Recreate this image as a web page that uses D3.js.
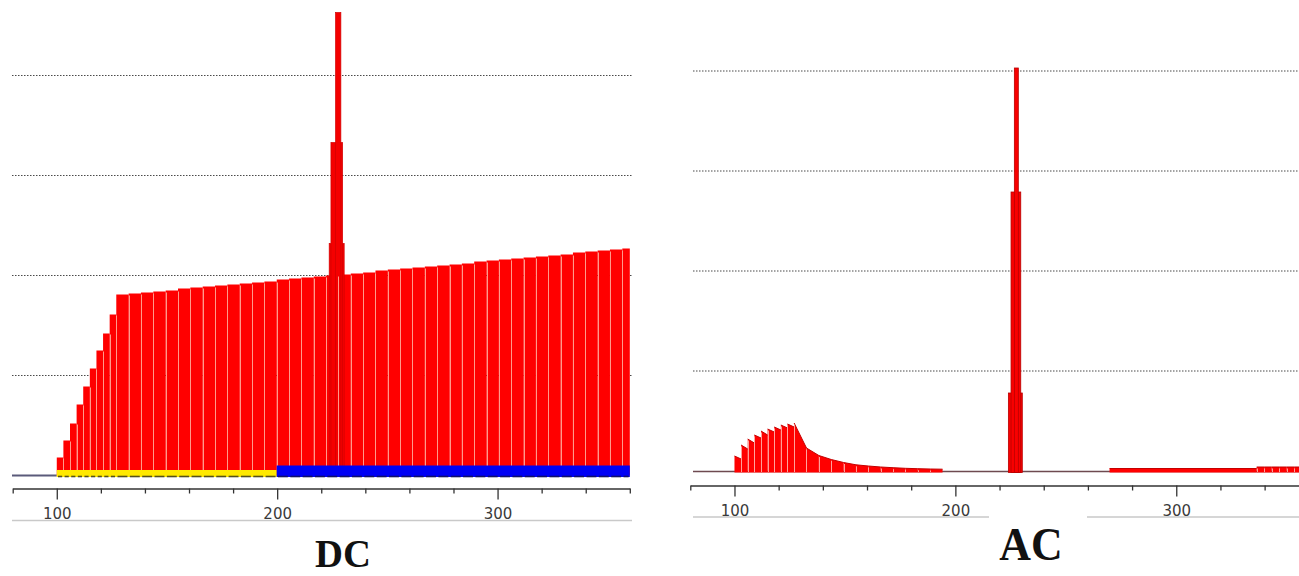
<!DOCTYPE html>
<html><head><meta charset="utf-8">
<script src="https://cdn.jsdelivr.net/npm/d3@7"></script>
<style>html,body{margin:0;padding:0;background:#fff;overflow:hidden}</style>
</head><body>
<svg id="c" width="1299" height="576"></svg>
<script>
// ---------- data ----------
const xDomain = [80, 360];
const majorTicks = [100, 200, 300];
const minorTicks = [80, 120, 140, 160, 180, 220, 240, 260, 280, 320, 340, 360];
const gridLevels = [1, 2, 3, 4];

// DC panel: bar start positions and heights (grid units)
const dcStarts = [100,103,106,109,112,115,118,121,124,127,132.6,138.2,143.8,149.4,155.0,160.6,166.2,171.8,177.4,183.0,188.6,194.2,199.8,205.4,211.0,216.6,222.2,227.8,233.4,239.0,244.6,250.2,255.8,261.4,267.0,272.6,278.2,283.8,289.4,295.0,300.6,306.2,311.8,317.4,323.0,328.6,334.2,339.8,345.4,351.0,356.6];
const dcValues = [0.18,0.35,0.52,0.71,0.89,1.07,1.25,1.42,1.61,1.81,1.82,1.83,1.84,1.85,1.87,1.88,1.89,1.90,1.91,1.92,1.93,1.94,1.96,1.97,1.98,1.99,2.00,2.01,2.02,2.03,2.05,2.06,2.07,2.08,2.09,2.10,2.11,2.12,2.14,2.15,2.16,2.17,2.18,2.19,2.20,2.21,2.23,2.24,2.25,2.26,2.27];
const dcSpikeStarts = [223.6, 224.4, 226.5];
const dcSpikeEnds = [230.4, 229.7, 228.9];
const dcSpikeValues = [2.32, 3.33, 4.63];
const dcPhaseEdges = [100, 199.8, 360];
const dcPhaseNames = ["ramp", "steady"];

// AC panel: bar start positions, value at bar start and at bar end
const acStarts = [100,103,106,109,112,115,118,121,124,127,132.6,138.2,143.8,149.4,155.0,160.6,166.2,171.8,177.4,183.0,188.6,194.2,269.8,336.4,339.8,343.2,346.6,350.0,353.4,356.8];
const acPeak = [0.15,0.26,0.32,0.36,0.40,0.42,0.44,0.46,0.47,0.48,0.23,0.155,0.115,0.085,0.062,0.05,0.04,0.033,0.027,0.023,0.02,0,0.025,0.04,0.04,0.04,0.04,0.04,0.04,0.04];
const acEnd = [0.12,0.22,0.28,0.33,0.36,0.39,0.41,0.43,0.44,0.23,0.155,0.115,0.085,0.062,0.05,0.04,0.033,0.027,0.023,0.02,0.018,0,0.025,0.04,0.04,0.04,0.04,0.04,0.04,0.04];
const acSpikeStarts = [224.0, 225.2, 226.7];
const acSpikeEnds = [230.3, 229.6, 228.5];
const acSpikeValues = [0.78, 2.79, 4.03];

// ---------- drawing ----------
const svg = d3.select("#c");
svg.append("rect").attr("width",1299).attr("height",576).attr("fill","#fff");

function endOf(starts, i){ return i < starts.length-1 ? starts[i+1] : xDomain[1]; }

function drawFrame(cfg){
  const g = svg.append("g");
  const x = d3.scaleLinear().domain(xDomain).range(cfg.xr);
  const y = d3.scaleLinear().domain([0,4]).range(cfg.yr);
  g.selectAll("line.grid").data(gridLevels).join("line")
    .attr("x1", cfg.gridX[0]).attr("x2", cfg.gridX[1])
    .attr("y1", d => y(d)).attr("y2", d => y(d))
    .attr("stroke", "#4a4a4a").attr("stroke-width", 1.1)
    .attr("stroke-dasharray", "1.5 1.5");
  return {g, x, y};
}

function drawAxis(cfg, x){
  const ax = svg.append("g").attr("transform", `translate(0,${cfg.axisY})`);
  ax.call(d3.axisBottom(x).tickValues(majorTicks).tickSize(11).tickSizeOuter(0).tickFormat(d3.format("d")));
  ax.select(".domain").attr("stroke","#333").attr("stroke-width",1.6);
  ax.selectAll(".tick line").attr("stroke","#333").attr("stroke-width",1.3);
  ax.selectAll(".tick text").attr("y", cfg.labelOffset).attr("dy", 0)
    .attr("fill","#3a3a3a").style("font-family","'DejaVu Sans', Verdana, sans-serif").style("font-size","15px");
  const mi = svg.append("g").attr("transform", `translate(0,${cfg.axisY})`);
  mi.call(d3.axisBottom(x).tickValues(minorTicks).tickSize(5).tickFormat(""));
  mi.select(".domain").remove();
  mi.selectAll(".tick line").attr("stroke","#333").attr("stroke-width",1.3);
  cfg.underline.forEach(s => {
    svg.append("line").attr("x1", s[0]).attr("x2", s[1])
      .attr("y1", cfg.underlineY).attr("y2", cfg.underlineY)
      .attr("stroke", "#c9c9c9").attr("stroke-width", 1.6);
  });
  svg.append("text")
    .attr("transform", `translate(${cfg.title.x},${cfg.title.y}) scale(${cfg.title.sx},${cfg.title.sy})`)
    .attr("text-anchor","middle")
    .style("font-family","'Liberation Serif','Times New Roman',serif")
    .style("font-weight","bold").style("font-size", cfg.title.size + "px")
    .attr("fill","#111").text(cfg.title.text);
}

// ----- DC -----
const dcCfg = {xr:[12.7, 629.8], yr:[475.5, 75.5], gridX:[12, 632], axisY:488.5,
  labelOffset:30.5, underline:[[12,632]], underlineY:520.5,
  title:{text:"DC", x:343, y:567, size:38, sx:1.02, sy:1.08}};
{
  const {g, x, y} = drawFrame(dcCfg);
  g.append("line").attr("x1", 12).attr("x2", x(dcPhaseEdges[0]))
    .attr("y1", 475.5).attr("y2", 475.5).attr("stroke","#5a5a7a").attr("stroke-width",2);
  const bars = dcStarts.map((s,i) => ({s, e:endOf(dcStarts,i), v:dcValues[i]}));
  g.selectAll("rect.dc").data(bars).join("rect")
    .attr("x", d => x(d.s)).attr("width", d => x(d.e)-x(d.s))
    .attr("y", d => y(d.v)).attr("height", d => y(0)-y(d.v))
    .attr("fill","#ff0000");
  const spk = dcSpikeStarts.map((s,i)=>({s, e:dcSpikeEnds[i], v:dcSpikeValues[i]}));
  g.selectAll("rect.dcs").data(spk).join("rect")
    .attr("x", d => x(d.s)).attr("width", d => x(d.e)-x(d.s))
    .attr("y", d => y(d.v)).attr("height", d => y(0)-y(d.v))
    .attr("fill","#f40000").attr("stroke","#d20000").attr("stroke-width",0.7);
  g.selectAll("line.sep").data(bars.slice(1).map((d,i)=>({s:d.s, v:Math.min(d.v, bars[i].v)})))
    .join("line")
    .attr("x1", d => Math.round(x(d.s))+0.5).attr("x2", d => Math.round(x(d.s))+0.5)
    .attr("y1", y(0)).attr("y2", d => y(d.v)+1)
    .attr("stroke","#ff9a8a").attr("stroke-width",1);
  const phases = dcPhaseNames.map((n,i)=>({n, s:dcPhaseEdges[i], e:dcPhaseEdges[i+1]}));
  g.selectAll("rect.ph").data(phases).join("rect")
    .attr("x", d => x(d.s)).attr("width", d => x(d.e)-x(d.s))
    .attr("y", d => d.n==="ramp" ? 470 : 465.5)
    .attr("height", d => d.n==="ramp" ? 7 : 11.5)
    .attr("fill", d => d.n==="ramp" ? "#ffe900" : "#0000f5");
  g.selectAll("line.dash").data(bars).join("line")
    .attr("x1", d => x(d.s)+1.2).attr("x2", d => x(d.e)-1.2)
    .attr("y1", 476.5).attr("y2", 476.5)
    .attr("stroke", d => d.s < dcPhaseEdges[1]-0.1 ? "#55501a" : "#10106a").attr("stroke-width",1.6);
  drawAxis(dcCfg, x);
}

// ----- AC -----
const acCfg = {xr:[690.3, 1308.8], yr:[471, 71], gridX:[693, 1299], axisY:485.5,
  labelOffset:30, underline:[[693,989],[1087,1299]], underlineY:517,
  title:{text:"AC", x:1031, y:560, size:43, sx:1.02, sy:1.08}};
{
  const {g, x, y} = drawFrame(acCfg);
  g.append("line").attr("x1", 693).attr("x2", 1299)
    .attr("y1", 471.5).attr("y2", 471.5).attr("stroke","#6e4a50").attr("stroke-width",1.6);
  const bars = acStarts.map((s,i)=>({s, e:endOf(acStarts,i), p:acPeak[i], q:acEnd[i]})).filter(d => d.p > 0);
  g.selectAll("path.ac").data(bars).join("path")
    .attr("d", d => `M${x(d.s)},${y(0)+1.5}L${x(d.s)},${y(d.p)}L${x(d.e)},${y(d.q)}L${x(d.e)},${y(0)+1.5}Z`)
    .attr("fill","#ff0000");
  g.selectAll("path.actop").data(bars).join("path")
    .attr("d", d => `M${x(d.s)},${y(d.p)}L${x(d.e)},${y(d.q)}`)
    .attr("fill","none").attr("stroke","#c40000").attr("stroke-width",1);
  g.selectAll("line.acsep").data(bars.filter((d,i)=> i>0 && bars[i-1].e === d.s))
    .join("line")
    .attr("x1", d => Math.round(x(d.s))+0.5).attr("x2", d => Math.round(x(d.s))+0.5)
    .attr("y1", y(0)+1).attr("y2", d => y(d.p)+1.5)
    .attr("stroke","#ffb0a8").attr("stroke-width",0.9);
  const spk = acSpikeStarts.map((s,i)=>({s, e:acSpikeEnds[i], v:acSpikeValues[i]}));
  g.selectAll("rect.acs").data(spk).join("rect")
    .attr("x", d => x(d.s)).attr("width", d => x(d.e)-x(d.s))
    .attr("y", d => y(d.v)).attr("height", d => y(0)-y(d.v)+1.5)
    .attr("fill","#f80000").attr("stroke","#b80000").attr("stroke-width",0.8);
  drawAxis(acCfg, x);
}
</script>
</body></html>
